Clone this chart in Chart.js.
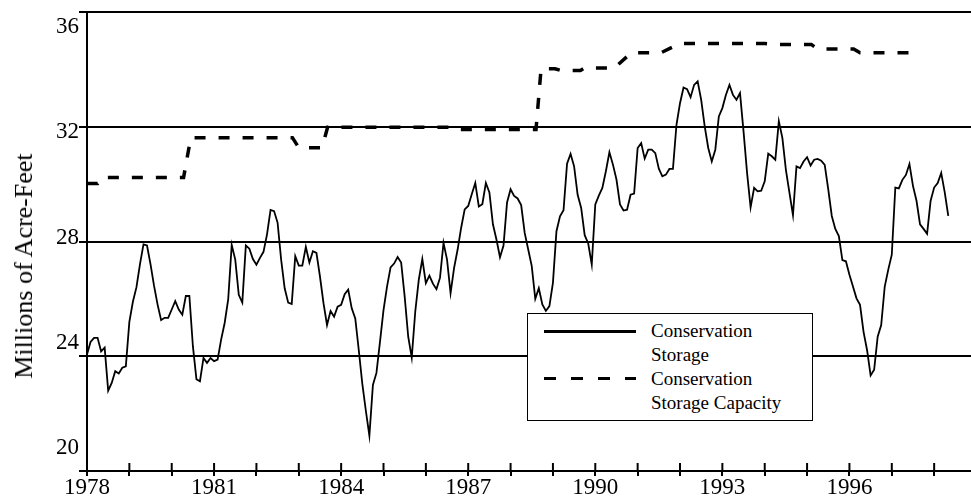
<!DOCTYPE html>
<html>
<head>
<meta charset="utf-8">
<script src="https://cdn.jsdelivr.net/npm/chart.js@4/dist/chart.umd.min.js"></script>
<style>
  html, body { margin: 0; padding: 0; background: #fff; overflow: hidden; }
  #wrap { position: relative; width: 971px; height: 500px; font-family: 'Liberation Serif', 'Times New Roman', serif; }
  #chart { position: absolute; left: 0; top: 0; }
  #ytitle { position: absolute; left: 24px; top: 266px; transform: translate(-50%, -50%) rotate(-90deg);
    white-space: nowrap; font-size: 26px; line-height: 26px; color: #000; }
  #legend { position: absolute; left: 527px; top: 313px; width: 284px; height: 106px;
    border: 1px solid #000; background: #fff; }
  #legend .txt { position: absolute; left: 123px; top: 5px; font-size: 19px; line-height: 24px; color: #000; }
  #legend .solid { position: absolute; left: 16px; top: 16px; width: 92px; height: 3px; background: #000; }
  #legend .dash { position: absolute; left: 16px; top: 63px; width: 92px; height: 3px;
    background: repeating-linear-gradient(90deg, #000 0 12px, transparent 12px 27px); }
</style>
</head>
<body>
<div id="wrap">
  <canvas id="chart" width="971" height="500"></canvas>
  <div id="ytitle">Millions of Acre-Feet</div>
  <div id="legend">
    <div class="solid"></div>
    <div class="dash"></div>
    <div class="txt">Conservation<br>Storage<br>Conservation<br>Storage Capacity</div>
  </div>
</div>
<script>
// monthly conservation storage, Jan 1978 .. May 1998 (millions of acre-feet)
var storageStart = 1978;
var storage = [
  24.06, 24.5, 24.64, 24.64, 24.17, 24.3, 22.8, 23.07, 23.48, 23.4, 23.6, 23.65,
  25.2, 25.9, 26.4, 27.2, 27.9, 27.86, 27.2, 26.45, 25.8, 25.26, 25.34, 25.34,
  25.63, 25.92, 25.63, 25.45, 26.1, 26.1, 24.35, 23.2, 23.13, 23.94, 23.77, 23.94,
  23.83, 23.88, 24.58, 25.16, 25.98, 27.88, 27.37, 26.14, 25.87, 27.86, 27.75, 27.39,
  27.19, 27.43, 27.64, 28.25, 29.1, 29.06, 28.65, 27.37, 26.37, 25.87, 25.82, 27.49,
  27.16, 27.16, 27.81, 27.27, 27.66, 27.6, 26.78, 25.85, 25.09, 25.58, 25.38, 25.73,
  25.79, 26.16, 26.32, 25.67, 25.32, 24.21, 23.04, 22.1, 21.23, 23.0, 23.42, 24.5,
  25.61, 26.43, 27.1, 27.23, 27.46, 27.27, 26.08, 24.68, 23.95, 25.56, 26.67, 27.39,
  26.55, 26.81, 26.53, 26.34, 26.73, 27.95, 27.37, 26.2, 27.08, 27.72, 28.48, 29.12,
  29.24, 29.65, 30.04, 29.22, 29.3, 30.04, 29.71, 28.6, 28.07, 27.45, 27.86, 29.36,
  29.82, 29.59, 29.5, 29.27, 28.3, 27.72, 27.14, 26.0, 26.37, 25.81, 25.58, 25.75,
  26.56, 28.36, 28.88, 29.09, 30.71, 31.05, 30.62, 29.63, 29.17, 28.22, 27.93, 27.2,
  29.29, 29.6, 29.87, 30.45, 31.11, 30.68, 30.16, 29.29, 29.08, 29.11, 29.63, 29.67,
  31.26, 31.43, 30.89, 31.2, 31.2, 31.08, 30.54, 30.27, 30.33, 30.53, 30.53, 32.07,
  32.82, 33.37, 33.31, 33.03, 33.46, 33.58, 32.94, 32.01, 31.26, 30.79, 31.2, 32.36,
  32.65, 33.11, 33.46, 33.11, 32.94, 33.17, 31.84, 30.39, 29.19, 29.87, 29.75, 29.77,
  30.1, 31.06, 30.97, 30.85, 32.19, 31.61, 30.5, 29.7, 28.92, 30.62, 30.56, 30.79,
  30.94, 30.65, 30.85, 30.88, 30.82, 30.67, 29.82, 28.89, 28.44, 28.19, 27.35, 27.31,
  26.84, 26.43, 26.02, 25.79, 24.85, 24.21, 23.33, 23.53, 24.68, 25.09, 26.43, 27.02,
  27.54, 29.88, 29.85, 30.15, 30.32, 30.7, 29.94, 29.42, 28.6, 28.44, 28.27, 29.42,
  29.88, 30.04, 30.39, 29.71, 28.89
];

// conservation storage capacity (step changes)
var capYears = [1978.0, 1978.25, 1978.35, 1980.28, 1980.45, 1982.85, 1983.0, 1983.55, 1983.68,
  1986.55, 1986.65, 1988.6, 1988.72, 1989.05, 1989.2, 1989.65, 1989.75, 1990.45, 1990.85,
  1991.55, 1992.0, 1994.0, 1994.2, 1995.1, 1995.25, 1996.1, 1996.25, 1997.65];
var capValues = [30.02, 30.02, 30.23, 30.23, 31.62, 31.62, 31.27, 31.27, 31.98,
  31.98, 31.9, 31.9, 34.02, 34.02, 33.96, 33.96, 34.05, 34.05, 34.58,
  34.58, 34.9, 34.9, 34.87, 34.87, 34.71, 34.71, 34.58, 34.58];

var yTicks = [20, 24, 28, 32, 36];
var xLabelEvery = 3;

var serif = "'Liberation Serif', 'Times New Roman', serif";
Chart.defaults.font.family = serif;
Chart.defaults.color = '#000';

var storagePts = storage.map(function (v, i) { return { x: storageStart + i / 12, y: v }; });
var capPts = capYears.map(function (yr, i) { return { x: yr, y: capValues[i] }; });

// short tick marks on the inner side of the x axis
var innerTicks = {
  id: 'innerTicks',
  afterDatasetsDraw: function (chart) {
    var ctx = chart.ctx, area = chart.chartArea, x = chart.scales.x;
    ctx.save();
    ctx.strokeStyle = '#000';
    ctx.lineWidth = 2;
    x.ticks.forEach(function (t) {
      var px = x.getPixelForValue(t.value);
      ctx.beginPath();
      ctx.moveTo(px, area.bottom - 8);
      ctx.lineTo(px, area.bottom);
      ctx.stroke();
    });
    ctx.restore();
  }
};

new Chart(document.getElementById('chart'), {
  type: 'line',
  data: {
    datasets: [{
      label: 'Conservation Storage',
      data: storagePts,
      borderColor: '#000',
      borderWidth: 1.8,
      pointRadius: 0,
      tension: 0,
      xAxisID: 'x',
      yAxisID: 'y'
    }, {
      label: 'Conservation Storage Capacity',
      data: capPts,
      borderColor: '#000',
      borderWidth: 3.5,
      borderDash: [11, 13],
      borderCapStyle: 'butt',
      pointRadius: 0,
      tension: 0,
      xAxisID: 'x',
      yAxisID: 'y'
    }]
  },
  options: {
    responsive: false,
    animation: false,
    devicePixelRatio: 1,
    layout: { padding: { top: 12, left: 0, right: 0, bottom: 0 } },
    plugins: { legend: { display: false }, tooltip: { enabled: false } },
    scales: {
      x: {
        type: 'linear',
        position: 'bottom',
        min: 1978,
        max: 1998.87,
        grid: { drawOnChartArea: false, tickLength: 5, color: '#000', lineWidth: 2 },
        border: { color: '#000', width: 2 },
        ticks: {
          stepSize: 1,
          autoSkip: false,
          includeBounds: false,
          maxRotation: 0,
          padding: 0,
          font: { size: 23, lineHeight: 1 },
          callback: function (v) { return (v - storageStart) % xLabelEvery === 0 ? String(v) : ''; }
        },
        afterFit: function (s) { s.height = 29; }
      },
      y: {
        position: 'left',
        weight: 0,
        min: yTicks[0],
        max: yTicks[yTicks.length - 1],
        grid: { color: '#000', lineWidth: 2, tickLength: 8 },
        border: { color: '#000', width: 2 },
        ticks: { display: false, stepSize: 4 }
      },
      yLabels: {
        position: 'left',
        weight: 1,
        min: 19.126,
        max: 36.57,
        grid: { display: false, drawTicks: false, tickLength: 0 },
        border: { display: false },
        ticks: {
          stepSize: 4,
          includeBounds: false,
          padding: 0,
          font: { size: 23, lineHeight: 1 },
          callback: function (v) { return yTicks.indexOf(v) >= 0 ? String(v) : ''; }
        },
        afterFit: function (s) { s.width = 79; }
      }
    }
  },
  plugins: [innerTicks]
});
</script>
</body>
</html>
